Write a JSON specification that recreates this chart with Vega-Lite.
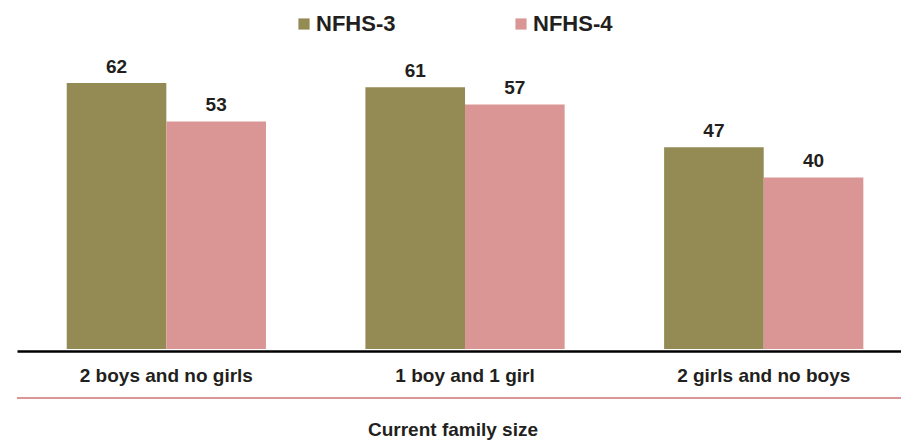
{
  "$schema": "https://vega.github.io/schema/vega-lite/v6.json",
  "width": 884,
  "height": 266,
  "autosize": {"type": "none"},
  "padding": {"left": 17, "top": 83, "right": 0, "bottom": 91},
  "background": "white",
  "config": {
    "view": {"stroke": null},
    "font": "Liberation Sans",
    "text": {"font": "Liberation Sans"}
  },
  "data": {
    "values": [
      {"size": "2 boys and no girls", "survey": "NFHS-3", "value": 62},
      {"size": "2 boys and no girls", "survey": "NFHS-4", "value": 53},
      {"size": "1 boy and 1 girl", "survey": "NFHS-3", "value": 61},
      {"size": "1 boy and 1 girl", "survey": "NFHS-4", "value": 57},
      {"size": "2 girls and no boys", "survey": "NFHS-3", "value": 47},
      {"size": "2 girls and no boys", "survey": "NFHS-4", "value": 40}
    ]
  },
  "layer": [
    {
      "mark": {"type": "rule", "color": "#D99694", "strokeWidth": 2},
      "encoding": {
        "y": {"datum": -11.4, "type": "quantitative", "scale": {"domain": [0, 62], "nice": false, "zero": true}, "axis": null}
      }
    },
    {
      "mark": {"type": "bar"},
      "encoding": {
        "x": {
          "field": "size",
          "type": "nominal",
          "sort": ["2 boys and no girls", "1 boy and 1 girl", "2 girls and no boys"],
          "scale": {"paddingInner": 0.333, "paddingOuter": 0.1463, "align": 0.569},
          "axis": {
            "title": "Current family size",
            "titleFont": "Liberation Sans",
            "titleFontSize": 19,
            "titleFontWeight": "bold",
            "titleColor": "#231F20",
            "titleBaseline": "alphabetic",
            "titleX": 435.5,
            "titleY": 84,
            "titleAnchor": "middle",
            "labelAngle": 0,
            "labelFont": "Liberation Sans",
            "labelFontSize": 19,
            "labelFontWeight": "bold",
            "labelColor": "#231F20",
            "labelBaseline": "alphabetic",
            "labelPadding": 30,
            "ticks": false,
            "tickSize": 0,
            "domainColor": "#000000",
            "domainWidth": 2.5,
            "offset": 2,
            "grid": false
          }
        },
        "xOffset": {
          "field": "survey",
          "type": "nominal",
          "sort": ["NFHS-3", "NFHS-4"],
          "scale": {"paddingInner": 0, "paddingOuter": 0}
        },
        "y": {
          "field": "value",
          "type": "quantitative",
          "scale": {"domain": [0, 62], "nice": false, "zero": true},
          "axis": null
        },
        "color": {
          "field": "survey",
          "type": "nominal",
          "sort": ["NFHS-3", "NFHS-4"],
          "scale": {"domain": ["NFHS-3", "NFHS-4"], "range": ["#948A54", "#D99694"]},
          "legend": {
            "title": null,
            "orient": "none",
            "direction": "horizontal",
            "legendX": 276,
            "legendY": -70,
            "symbolType": "square",
            "symbolSize": 125,
            "symbolStrokeWidth": 0,
            "symbolOpacity": 1,
            "labelFont": "Liberation Sans",
            "labelFontSize": 22,
            "labelFontWeight": "bold",
            "labelColor": "#231F20",
            "labelOffset": 1,
            "columnPadding": 114,
            "padding": 0
          }
        }
      }
    },
    {
      "mark": {
        "type": "text",
        "baseline": "alphabetic",
        "dy": -10.5,
        "font": "Liberation Sans",
        "fontSize": 19,
        "fontWeight": "bold",
        "color": "#231F20"
      },
      "encoding": {
        "x": {
          "field": "size",
          "type": "nominal",
          "sort": ["2 boys and no girls", "1 boy and 1 girl", "2 girls and no boys"]
        },
        "xOffset": {
          "field": "survey",
          "type": "nominal",
          "sort": ["NFHS-3", "NFHS-4"]
        },
        "y": {"field": "value", "type": "quantitative"},
        "text": {"field": "value", "type": "quantitative"}
      }
    }
  ]
}
